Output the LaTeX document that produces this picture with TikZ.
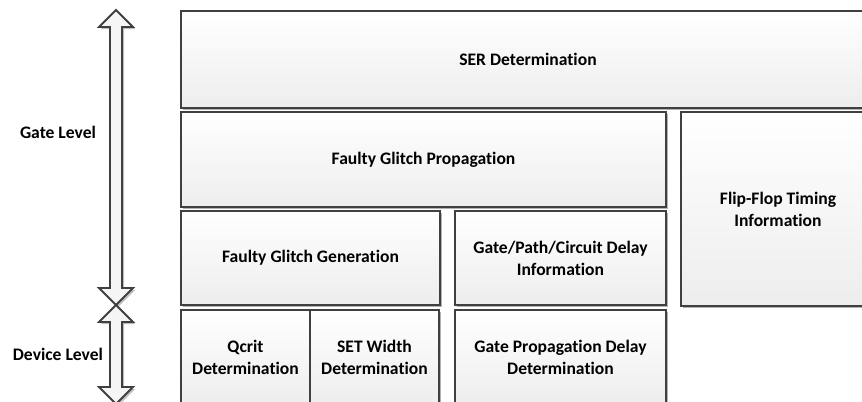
\documentclass[tikz,border=0pt]{standalone}
\usepackage{fontspec}
\setmainfont[Ligatures=NoCommon]{Carlito}
\usetikzlibrary{shadows}
\begin{document}
\begin{tikzpicture}[x=0.03cm,y=-0.03cm,
  blk/.style={draw=black!75,line width=1.6pt,top color=white,bottom color=black!7,
    drop shadow={fill=black!30,opacity=1,shadow xshift=1.8pt,shadow yshift=-1.8pt},
    inner sep=0pt,align=center,font=\fontsize{15}{18.7}\selectfont\bfseries},
  lvlarrow/.style={draw=black!75,line width=1.6pt,fill=black!4,line join=miter,
    drop shadow={fill=black!25,opacity=1,shadow xshift=1.8pt,shadow yshift=-1.8pt}},
  lvl/.style={font=\fontsize{15}{18.7}\selectfont\bfseries}]
\useasboundingbox (0,0) rectangle (862,402);
\clip (0,0) rectangle (862,402);
%levels
\draw[lvlarrow] (116,10) -- (133,27) -- (122,27) -- (122,288) -- (133,288) -- (116,305)
  -- (99,288) -- (110,288) -- (110,27) -- (99,27) -- cycle;
\draw[lvlarrow] (116,305) -- (133,322) -- (122,322) -- (122,387) -- (133,387) -- (116,404)
  -- (99,387) -- (110,387) -- (110,322) -- (99,322) -- cycle;
\node[lvl] (gate) at (58,132) {Gate Level};
\node[lvl] (dev) at (58,354) {Device Level};
%blocks
\node[blk,minimum width=20.82cm,minimum height=2.91cm] (ser) at (528,59.5) {SER Determination};
\node[blk,minimum width=14.55cm,minimum height=2.85cm] (prop) at (423.5,159.5) {Faulty Glitch Propagation};
\node[blk,minimum width=5.82cm,minimum height=5.82cm] (ff) at (778,209) {Flip-Flop Timing\\Information};
\node[blk,minimum width=7.77cm,minimum height=2.82cm] (gen) at (310.5,258) {Faulty Glitch Generation};
\node[blk,minimum width=6.33cm,minimum height=2.82cm] (gpc) at (560.5,258) {Gate/Path/Circuit Delay\\Information};
\node[blk,minimum width=3.87cm,minimum height=2.82cm] (qcrit) at (245.5,357) {Qcrit\\Determination};
\node[blk,minimum width=3.87cm,minimum height=2.82cm] (setw) at (374.5,357) {SET Width\\Determination};
\node[blk,minimum width=6.33cm,minimum height=2.82cm] (gpd) at (560.5,357) {Gate Propagation Delay\\Determination};
\end{tikzpicture}
\end{document}
